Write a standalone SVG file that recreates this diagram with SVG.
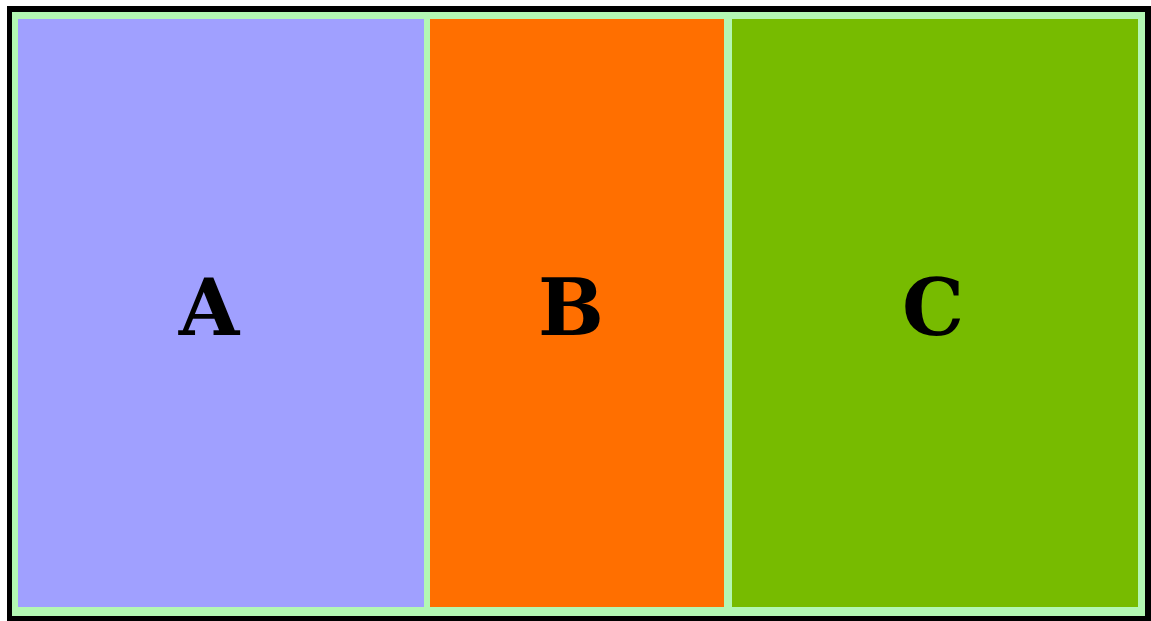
<svg xmlns="http://www.w3.org/2000/svg" width="1151" height="621" viewBox="0 0 1151 621">
<style>
.lbl{font-family:"DejaVu Serif","Liberation Serif",serif;font-weight:bold;font-size:78px;fill:#000;text-anchor:middle}
</style>
<rect x="0" y="0" width="1151" height="621" fill="#ffffff"/>
<rect x="7" y="6" width="1144" height="615" fill="#000000"/>
<rect x="12" y="12" width="1133" height="604" fill="#b3f7b3"/>
<g id="A">
<rect x="18" y="19" width="406" height="588" fill="#a0a0ff"/>
<text class="lbl" x="209" y="335">A</text>
</g>
<g id="B">
<rect x="430" y="19" width="294" height="588" fill="#ff6f00"/>
<text class="lbl" x="571" y="335">B</text>
</g>
<g id="C">
<rect x="732" y="19" width="406" height="588" fill="#77bb00"/>
<text class="lbl" x="933" y="335">C</text>
</g>
<g id="connectors"></g>
</svg>
